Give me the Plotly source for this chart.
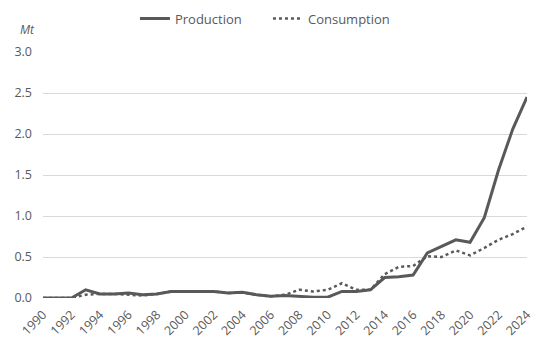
import plotly.graph_objects as go

years = list(range(1990, 2025))
production = [0, 0, 0, 0.10, 0.05, 0.05, 0.06, 0.04, 0.05, 0.08,
              0.08, 0.08, 0.08, 0.06, 0.07, 0.04, 0.02, 0.03, 0.02, 0.01,
              0.01, 0.08, 0.08, 0.10, 0.25, 0.26, 0.28, 0.55, 0.63, 0.71,
              0.68, 0.98, 1.56, 2.06, 2.45]
consumption = [0, 0, 0, 0.04, 0.05, 0.05, 0.04, 0.03, 0.05, 0.08,
               0.08, 0.08, 0.08, 0.06, 0.07, 0.04, 0.02, 0.04, 0.10, 0.08,
               0.10, 0.18, 0.10, 0.10, 0.29, 0.38, 0.39, 0.51, 0.50, 0.58,
               0.52, 0.61, 0.71, 0.78, 0.87]
tick_years = list(range(1990, 2025, 2))

grey = "#595959"
fig = go.Figure()
fig.add_trace(go.Scatter(x=years, y=production, name="Production", mode="lines",
                         line=dict(color=grey, width=3)))
fig.add_trace(go.Scatter(x=years, y=consumption, name="Consumption", mode="lines",
                         line=dict(color=grey, width=2.5, dash="dot")))

fig.update_layout(
    width=552, height=351,
    margin=dict(l=43, r=25, t=52, b=53, autoexpand=False),
    paper_bgcolor="white", plot_bgcolor="white",
    font=dict(family="Open Sans", size=12, color=grey),
    showlegend=True,
    legend=dict(orientation="h", x=0.19, xanchor="left", y=1.136, yanchor="middle",
                font=dict(size=13, color=grey), itemwidth=30,
                entrywidth=88, entrywidthmode="pixels"),
    xaxis=dict(range=[1990, 2024], tickmode="array", tickvals=tick_years,
               ticktext=[str(y) for y in tick_years], tickangle=-45,
               showgrid=False, zeroline=False, showline=False,
               tickfont=dict(size=12.5, color=grey), ticklabelstandoff=6),
    yaxis=dict(range=[0, 3], dtick=0.5, tickformat=".1f", showgrid=True,
               gridcolor="#d9d9d9", gridwidth=1, zeroline=False, showline=False,
               tickfont=dict(size=12.5, color=grey), ticklabelstandoff=10),
    annotations=[dict(text="<i>Mt</i>", xref="paper", yref="paper", x=-0.033, y=1.09,
                      xanchor="center", yanchor="middle", showarrow=False,
                      font=dict(size=12, color=grey))],
)
fig.write_html("out.html")
